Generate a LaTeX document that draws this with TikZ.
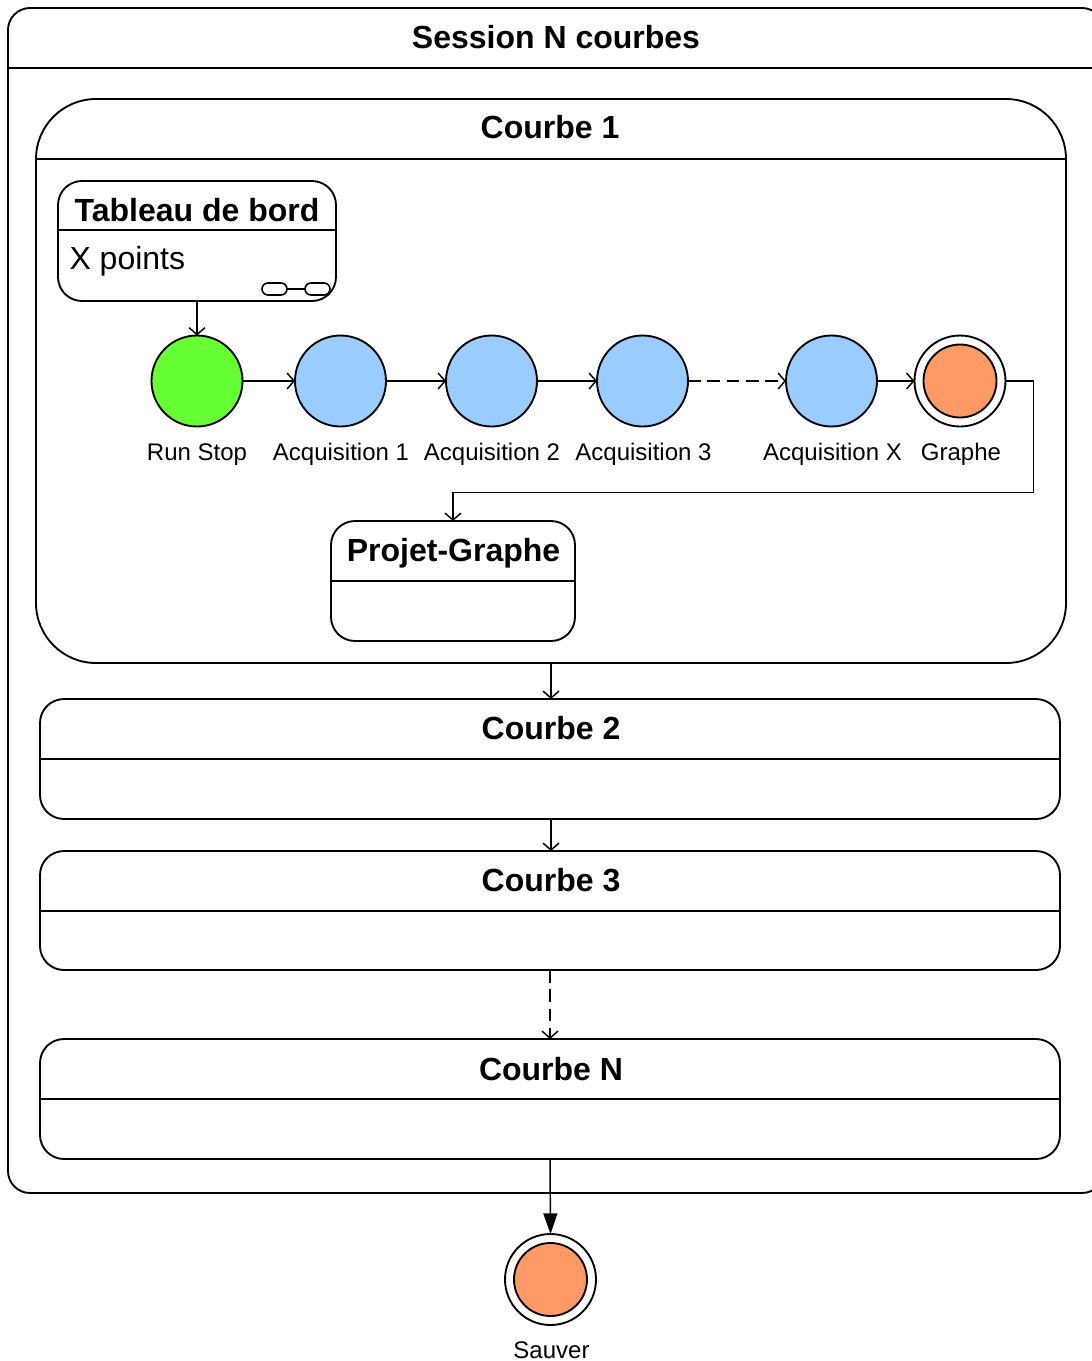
\documentclass[tikz,border=0pt]{standalone}
\usepackage{fontspec}
\setmainfont{Liberation Sans}
\usetikzlibrary{arrows.meta,calc}
\tikzset{
  x=0.75pt,y=-0.75pt,
  every node/.style={outer sep=0pt,inner sep=0pt},
  ln/.style={line width=1.4pt,draw=black},
  stbox/.style n args={3}{ln,rectangle,rounded corners=#3*0.75pt,minimum width=#1*0.75pt,minimum height=#2*0.75pt},
  stcirc/.style={ln,circle,minimum size=91*0.75pt},
  start/.style={stcirc,fill=runc},
  acq/.style={stcirc,fill=acqc},
  fin/.style={stcirc,fill=white},
  fincore/.style={ln,circle,minimum size=73*0.75pt,fill=finc},
  title/.style={font=\bfseries\fontsize{24}{28}\selectfont,anchor=base},
  body/.style={font=\fontsize{24}{28}\selectfont,anchor=base west},
  lab/.style={font=\fontsize{18}{22}\selectfont,anchor=base},
  conn/.style={line width=1.1pt,-{Straight Barb[length=5.2pt,width=12pt,line width=1.1pt]}},
  connd/.style={conn,dash pattern=on 9.5pt off 5pt},
  connf/.style={line width=1.1pt,-{Triangle[length=15.5pt,width=10.5pt]}},
  pill/.style={line width=1.2pt,rounded corners=4.5pt}
}
\definecolor{runc}{HTML}{66FF33}
\definecolor{acqc}{HTML}{99CCFF}
\definecolor{finc}{HTML}{FF9966}
\begin{document}
\begin{tikzpicture}
\useasboundingbox (0,0) rectangle (1092,1361);
\clip (0,0) rectangle (1092,1361);
% session
\node[stbox={1096}{1185}{22}] (sess) at (556,600.5) {};
\draw[ln] (sess.west |- 0,68) -- (sess.east |- 0,68);
\node[title] (tsess) at (556,48) {Session N courbes};
% courbe 1
\node[stbox={1030}{564}{60}] (c1) at (551,381) {};
\draw[ln] (c1.west |- 0,159) -- (c1.east |- 0,159);
\node[title] (tc1) at (550,138) {Courbe 1};
% tableau
\node[stbox={278}{120}{24}] (tab) at (197,241) {};
\draw[ln] (tab.west |- 0,230) -- (tab.east |- 0,230);
\node[title] (ttab) at (197,221) {Tableau de bord};
\node[body] (xp) at (69.5,269) {X points};
\draw[pill] (262,283) rectangle (287,295);
\draw[pill] (305,283) rectangle (330,295);
\draw[line width=1.2pt] (287,289) -- (305,289);
% states
\node[start] (run) at (197,381) {};
\node[acq] (a1) at (340.5,381) {};
\node[acq] (a2) at (491.5,381) {};
\node[acq] (a3) at (642.5,381) {};
\node[acq] (ax) at (831.5,381) {};
\node[fin] (gr) at (960,381) {};
\node[fincore] (grc) at (960,381) {};
\node[lab] (lrun) at (197,460) {Run Stop};
\node[lab] (la1) at (341,460) {Acquisition 1};
\node[lab] (la2) at (492,460) {Acquisition 2};
\node[lab] (la3) at (643.5,460) {Acquisition 3};
\node[lab] (lax) at (832.5,460) {Acquisition X};
\node[lab] (lgr) at (961,460) {Graphe};
% projet
\node[stbox={244}{120}{24}] (proj) at (453,581) {};
\draw[ln] (proj.west |- 0,581) -- (proj.east |- 0,581);
\node[title] (tproj) at (453.5,561) {Projet-Graphe};
% courbes
\node[stbox={1020}{120}{24}] (c2) at (550,759) {};
\draw[ln] (c2.west |- 0,759) -- (c2.east |- 0,759);
\node[title] (tc2) at (551,739) {Courbe 2};
\node[stbox={1020}{119}{24}] (c3) at (550,910.5) {};
\draw[ln] (c3.west |- 0,911) -- (c3.east |- 0,911);
\node[title] (tc3) at (551,891) {Courbe 3};
\node[stbox={1020}{120}{24}] (cn) at (550,1099) {};
\draw[ln] (cn.west |- 0,1099) -- (cn.east |- 0,1099);
\node[title] (tcn) at (551,1080) {Courbe N};
% sauver
\node[fin] (sv) at (550.5,1279.5) {};
\node[fincore] (svc) at (550.5,1279.5) {};
\node[lab] (lsv) at (551.5,1358) {Sauver};
% connectors
\coordinate (bend) at (1033.5,492.5);
\draw[conn] (tab.south) -- (run.north);
\draw[conn] (run.east) -- (a1.west);
\draw[conn] (a1.east) -- (a2.west);
\draw[conn] (a2.east) -- (a3.west);
\draw[connd] (a3.east) -- (ax.west);
\draw[conn] (ax.east) -- (gr.west);
\draw[conn] (gr.east) -| (bend) -| (proj.north);
\draw[conn] (c1.south) -- (c1.south |- c2.north);
\draw[conn] (c2.south -| c2.north) ++(1,0) coordinate (s2) -- (s2 |- c3.north);
\draw[connd] (c3.south) -- (cn.north);
\draw[connf] (cn.south) -- (sv.north);
\end{tikzpicture}
\end{document}
